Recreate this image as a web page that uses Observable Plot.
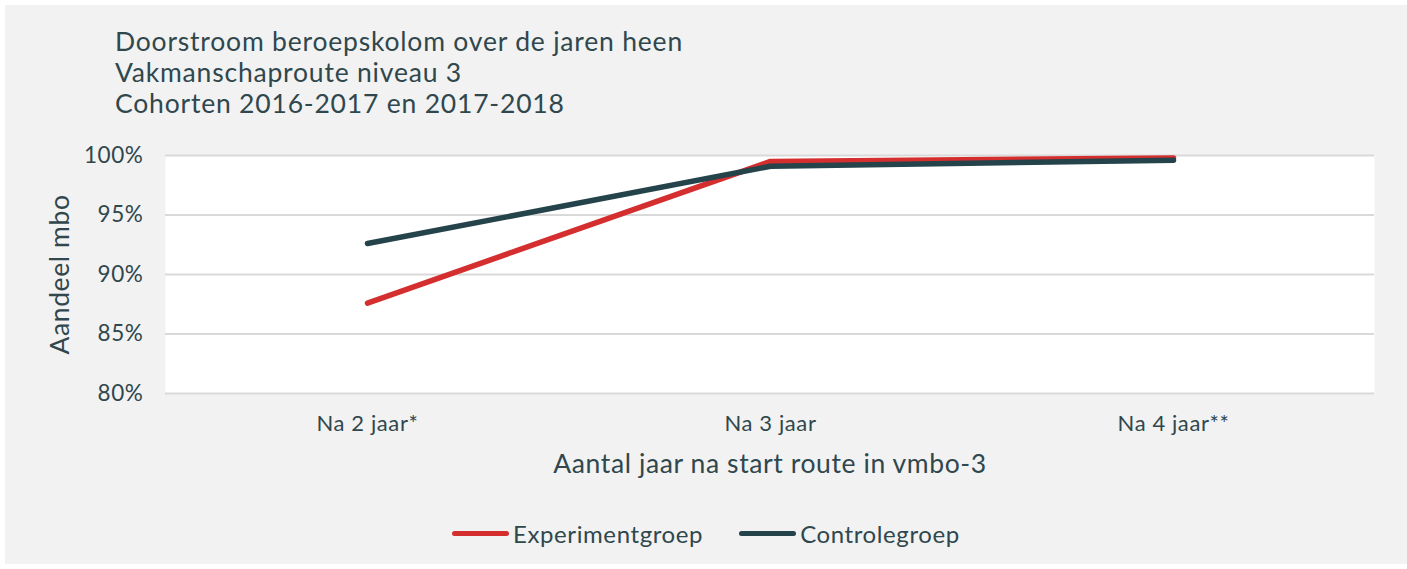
<!DOCTYPE html>
<html>
<head>
<meta charset="utf-8">
<script src="https://cdn.jsdelivr.net/npm/d3@7"></script>
<script src="https://cdn.jsdelivr.net/npm/@observablehq/plot@0.6"></script>
<style>
  html, body { margin: 0; padding: 0; background: #ffffff; }
  #card { position: absolute; left: 5px; top: 5px; width: 1402px; height: 559px; background: #f2f2f2; font-family: Lato, "Open Sans", sans-serif; color: #2f474d; }
  #title { position: absolute; left: 110px; top: 21px; font-size: 26.5px; line-height: 31px; letter-spacing: 0.8px; white-space: nowrap; }
  #chart { position: absolute; left: -5px; top: 135px; }
  #chart svg text { letter-spacing: 0.6px; }
  #legend { position: absolute; left: 447px; top: 510px; display: flex; align-items: center; font-size: 24px; letter-spacing: 0.6px; height: 36px; white-space: nowrap; }
  .item { display: flex; align-items: center; margin-right: 36px; }
  .sw { width: 57px; height: 5px; border-radius: 3px; margin-right: 4px; }
</style>
</head>
<body>
<div id="card">
  <div id="title"></div>
  <div id="chart"></div>
  <div id="legend"></div>
</div>
<script>
const titleLines = ["Doorstroom beroepskolom over de jaren heen", "Vakmanschaproute niveau 3", "Cohorten 2016-2017 en 2017-2018"];
const categories = ["Na 2 jaar*", "Na 3 jaar", "Na 4 jaar**"];
const seriesNames = ["Experimentgroep", "Controlegroep"];
const experimentValues = [87.6, 99.5, 99.8];
const controlValues = [92.6, 99.1, 99.6];
const yTicks = [80, 85, 90, 95, 100];
const yLabel = "Aandeel mbo";
const xLabel = "Aantal jaar na start route in vmbo-3";
const colors = ["#d42e2e", "#25434b"];

document.getElementById("title").innerHTML = titleLines.map(t => `<div>${t}</div>`).join("");

const data = [];
categories.forEach((c, i) => {
  data.push({cat: c, value: experimentValues[i], series: seriesNames[0]});
});
categories.forEach((c, i) => {
  data.push({cat: c, value: controlValues[i], series: seriesNames[1]});
});

const textColor = "#2f474d";
const chart = Plot.plot({
  width: 1407,
  height: 345,
  marginLeft: 165,
  marginRight: 33,
  marginTop: 15,
  marginBottom: 92,
  style: {fontFamily: "Lato, 'Open Sans', sans-serif", color: textColor, background: "transparent", overflow: "visible"},
  x: {type: "point", domain: categories, padding: 0.5, label: null},
  y: {domain: [80, 100], ticks: yTicks, label: null},
  color: {domain: seriesNames, range: colors},
  marks: [
    Plot.frame({fill: "white", stroke: null}),
    Plot.gridY(yTicks, {stroke: "#d9d9d9", strokeOpacity: 1, strokeWidth: 2}),
    Plot.axisY(yTicks, {tickSize: 0, tickPadding: 22, fontSize: 22.5, tickFormat: d => d + "%", label: null, fill: textColor}),
    Plot.axisX({tickSize: 0, tickPadding: 22, fontSize: 22, label: null, fill: textColor}),
    Plot.line(data, {x: "cat", y: "value", z: "series", stroke: "series", strokeWidth: 5.5, strokeLinecap: "round"}),
    Plot.text([yLabel], {frameAnchor: "left", textAnchor: "middle", dx: -105, rotate: -90, fontSize: 26.5, fill: textColor, text: d => d}),
    Plot.text([xLabel], {frameAnchor: "bottom", dy: 79, fontSize: 26.5, fill: textColor, text: d => d})
  ]
});
document.getElementById("chart").appendChild(chart);

document.getElementById("legend").innerHTML = seriesNames.map((s, i) =>
  `<div class="item"><div class="sw" style="background:${colors[i]}"></div><span>${s}</span></div>`).join("");
</script>
</body>
</html>
